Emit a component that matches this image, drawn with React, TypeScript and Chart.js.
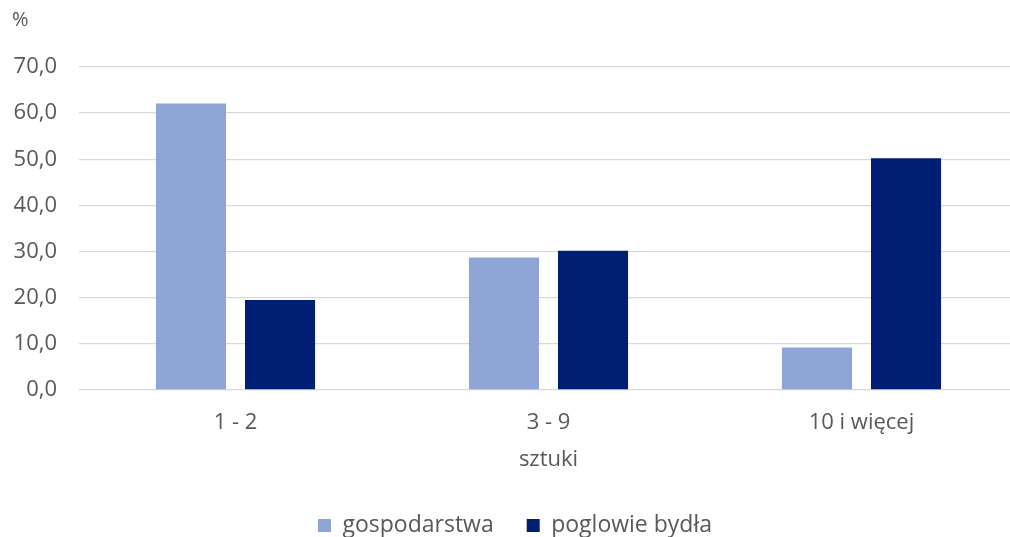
import React, { useEffect, useRef } from "react";
import { Chart, registerables } from "chart.js";

Chart.register(...registerables);

const categories: string[] = ["1 - 2", "3 - 9", "10 i więcej"];
const gospodarstwa: number[] = [62.1, 28.7, 9.2];
const poglowieBydla: number[] = [19.5, 30.2, 50.2];
const seriesNames: string[] = ["gospodarstwa", "poglowie bydła"];

const textColor = "#595959";
const fontFamily = "'Open Sans', sans-serif";

const App: React.FC = () => {
  const chartRef = useRef<HTMLCanvasElement>(null);

  useEffect(() => {
    const ctx = chartRef.current;
    if (!ctx) return;

    const chart = new Chart(ctx, {
      type: "bar",
      data: {
        labels: categories,
        datasets: [
          {
            label: seriesNames[0],
            data: gospodarstwa,
            backgroundColor: "#8FA5D5",
            categoryPercentage: 0.569,
            barPercentage: 0.787,
          },
          {
            label: seriesNames[1],
            data: poglowieBydla,
            backgroundColor: "#001E74",
            categoryPercentage: 0.569,
            barPercentage: 0.787,
          },
        ],
      },
      options: {
        responsive: false,
        animation: false,
        layout: {
          padding: { left: 12, right: 1, top: 0, bottom: 0 },
        },
        scales: {
          x: {
            grid: { display: false, drawTicks: false },
            border: { display: false },
            ticks: {
              color: textColor,
              font: { family: fontFamily, size: 22 },
              padding: 20,
            },
            title: {
              display: true,
              text: "sztuki",
              color: textColor,
              font: { family: fontFamily, size: 22 },
              padding: { top: 0, bottom: 8 },
            },
            afterFit: (scale) => {
              scale.height = 91;
            },
          },
          y: {
            min: 0,
            max: 70,
            ticks: {
              stepSize: 10,
              color: textColor,
              font: { family: fontFamily, size: 22 },
              padding: 22,
              callback: (value) => Number(value).toFixed(1).replace(".", ","),
            },
            grid: { color: "#D9D9D9", lineWidth: 1.3, drawTicks: false },
            border: { display: false },
            afterFit: (scale) => {
              scale.width = 67;
            },
          },
        },
        plugins: {
          title: {
            display: true,
            text: "%",
            align: "start",
            color: textColor,
            font: { family: fontFamily, size: 20, weight: "normal" },
            padding: { top: 8, bottom: 35 },
          },
          legend: {
            position: "bottom",
            labels: {
              color: textColor,
              font: { family: fontFamily, size: 23 },
              boxWidth: 13,
              boxHeight: 13,
              padding: 33,
            },
          },
          tooltip: { enabled: false },
        },
      },
    });

    return () => {
      chart.destroy();
    };
  }, []);

  return (
    <div
      style={{
        position: "absolute",
        left: 0,
        top: 0,
        width: 1010,
        height: 537,
        overflow: "hidden",
        background: "#fff",
      }}
    >
      <canvas ref={chartRef} width={1019} height={547} />
    </div>
  );
};

export default App;
